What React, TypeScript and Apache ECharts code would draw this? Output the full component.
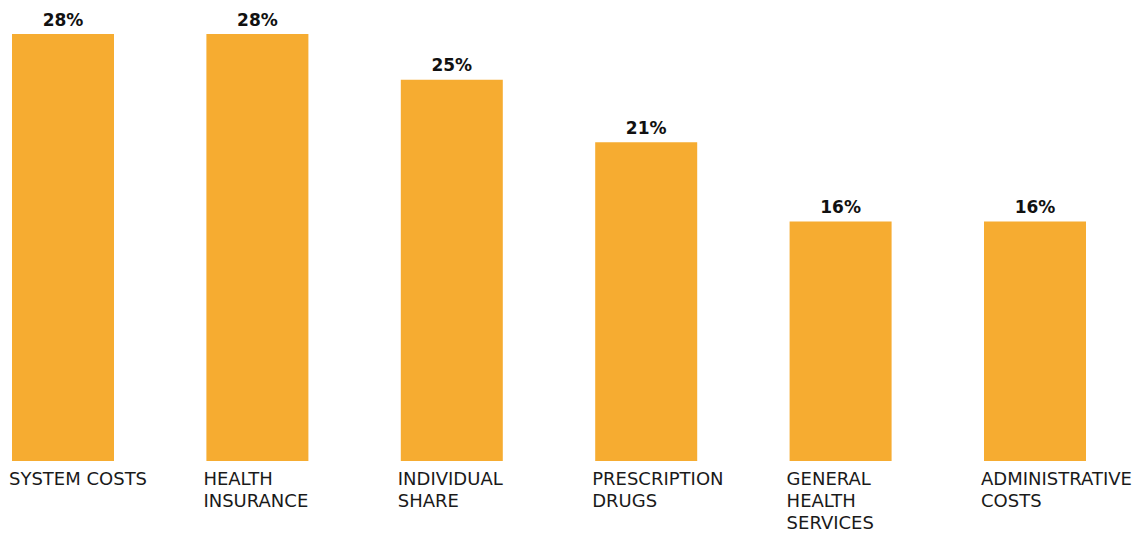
import React, { useEffect, useRef } from "react";
import * as echarts from "echarts";

const categories = [
  "SYSTEM COSTS",
  "HEALTH\nINSURANCE",
  "INDIVIDUAL\nSHARE",
  "PRESCRIPTION\nDRUGS",
  "GENERAL\nHEALTH\nSERVICES",
  "ADMINISTRATIVE\nCOSTS",
];
const values = [28, 28, 25, 20.9, 15.7, 15.7];

export default function App() {
  const ref = useRef<HTMLDivElement>(null);
  useEffect(() => {
    const chart = echarts.init(ref.current!, null, { renderer: "svg" });
    chart.setOption({
      animation: false,
      grid: [
        { left: 63, right: 106, top: 34, bottom: 73 },
        { left: 9, right: 160, top: 34, bottom: 73 },
      ],
      xAxis: [
        {
          type: "category",
          data: categories,
          gridIndex: 0,
          boundaryGap: false,
          axisLine: { show: false },
          axisTick: { show: false },
          axisLabel: { show: false },
        },
        {
          type: "category",
          data: categories,
          gridIndex: 1,
          boundaryGap: false,
          axisLine: { show: false },
          axisTick: { show: false },
          axisLabel: {
            align: "left",
            verticalAlign: "top",
            margin: 6,
            fontFamily: "DejaVu Sans",
            fontSize: 18,
            lineHeight: 22,
            color: "#1a1a1a",
            interval: 0,
          },
        },
      ],
      yAxis: [
        { type: "value", gridIndex: 0, min: 0, max: 28, show: false },
        { type: "value", gridIndex: 1, min: 0, max: 28, show: false },
      ],
      series: [
        {
          type: "bar",
          xAxisIndex: 0,
          yAxisIndex: 0,
          data: values,
          barWidth: 102,
          itemStyle: { color: "#F6AC31" },
          label: {
            show: true,
            position: "top",
            distance: 6,
            fontFamily: "DejaVu Sans",
            fontWeight: "bold",
            fontSize: 17,
            color: "#111",
            formatter: (p: any) => Math.round(p.value) + "%",
          },
        },
      ],
    });
    return () => chart.dispose();
  }, []);
  return <div ref={ref} style={{ width: 1141, height: 534, position: "absolute", left: 0, top: 0 }} />;
}
